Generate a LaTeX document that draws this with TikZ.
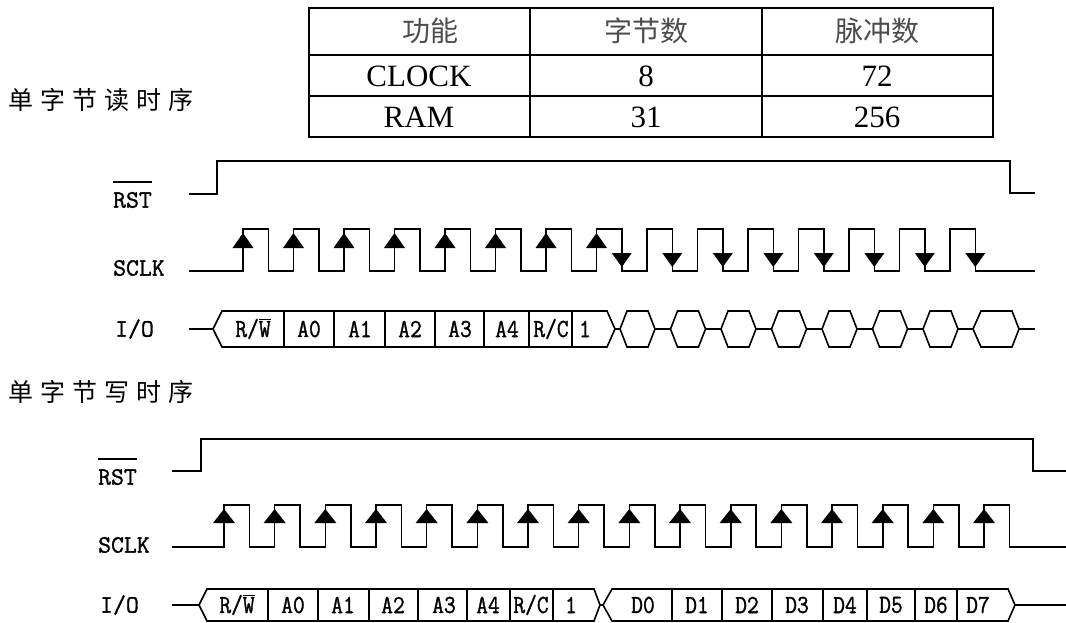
\documentclass[tikz,border=0pt]{standalone}
\usepackage{fontspec}
\setmainfont{Liberation Serif}
\newfontfamily\cjk{Noto Sans CJK SC}
\newfontfamily\cjkt{Noto Sans CJK SC}[LetterSpace=28]
\newfontfamily\iofont{Latin Modern Mono}[FakeBold=1.2]
\newfontfamily\bitfont{Latin Modern Mono}[FakeBold=1.2,FakeStretch=0.88]
\begin{document}
\begin{tikzpicture}[x=1pt,y=-1pt,line join=miter,
  sig/.style={line width=1.6pt},
  tbl/.style={line width=1.7pt},
  lbl/.style={anchor=west,inner sep=0pt,font=\iofont\fontsize{25}{25}\selectfont},
  bit/.style={inner sep=0pt,font=\bitfont\fontsize{26}{26}\selectfont},
  cell/.style={inner sep=0pt,font=\fontsize{31}{31}\selectfont},
  hdr/.style={inner sep=0pt,text=black!70,font=\cjk\fontsize{28}{28}\selectfont},
  ttl/.style={anchor=west,inner sep=0pt,font=\cjkt\fontsize{25}{25}\selectfont},
  ovl/.style={line width=1.3pt},
  box/.style={sig,fill=white}]
\useasboundingbox (0,0) rectangle (1066,622);

% ---------------- table ----------------
\draw[tbl] (309,8) rectangle (993,137);
\draw[tbl] (309,55) -- (993,55) (309,96) -- (993,96);
\draw[tbl] (530,8) -- (530,137) (762,8) -- (762,137);
\node[hdr] (h1) at (430,31) {功能};
\node[hdr] (h2) at (646,31) {字节数};
\node[hdr] (h3) at (877,31) {脉冲数};
\node[cell] (c11) at (419,76) {CLOCK};
\node[cell] (c12) at (646,76) {8};
\node[cell] (c13) at (877,76) {72};
\node[cell] (c21) at (419,117) {RAM};
\node[cell] (c22) at (646,117) {31};
\node[cell] (c23) at (877,117) {256};

% ---------------- titles ----------------
\node[ttl] (tread) at (8,100) {单字节读时序};
\node[ttl] (twrite) at (8,392) {单字节写时序};

% ---------------- read timing ----------------
\node[lbl] (rrst) at (113,200) {RST};
\draw[ovl] ([yshift=18pt]rrst.west) -- ([yshift=18pt]rrst.east);
\node[lbl] (rsclk) at (113,268) {SCLK};
\node[lbl] (rio) at (115,329) {I/O};

\draw[sig] (189,194) -- (217,194) -- (217,161) -- (1010,161) -- (1010,193) -- (1035,193);

\draw[sig] (189,271)
  \foreach \k [evaluate=\k as \r using 243+50.5*\k, evaluate=\k as \f using 268.3+50.5*\k] in {0,...,14}
    { -- (\r,271) -- (\r,229) -- (\f,229) -- (\f,271) }
  -- (1035,271);
\foreach \k [evaluate=\k as \r using 243+50.5*\k] in {0,...,7}
  \fill (\r,233) -- ++(-10.5,15) -- ++(21,0) -- cycle;
\foreach \k [evaluate=\k as \f using 268.3+50.5*\k] in {7,...,14}
  \fill (\f,267) -- ++(-10,-14) -- ++(20,0) -- cycle;

\draw[sig] (189,329) -- (1035,329);
\filldraw[box] (213,329) -- (222,311) -- (607,311) -- (615,329) -- (607,347) -- (222,347) -- cycle;
\foreach \x in {284,334,385,435,484,529,572}
  \draw[sig] (\x,311) -- (\x,347);
\foreach \k [evaluate=\k as \L using 620+50.5*(\k-7)] in {7,...,13}
  \filldraw[box] (\L,329) -- ++(7,-18) -- ++(21,0) -- ++(7,18) -- ++(-7,18) -- ++(-21,0) -- cycle;
\filldraw[box] (973,329) -- (981,311) -- (1012,311) -- (1019,329) -- (1012,347) -- (981,347) -- cycle;

\node[bit] (rb0) at (253,329) {R/$\overline{\mbox{W}}$};
\node[bit] (rb1) at (309,329) {A0};
\node[bit] (rb2) at (360,329) {A1};
\node[bit] (rb3) at (410,329) {A2};
\node[bit] (rb4) at (460,329) {A3};
\node[bit] (rb5) at (507,329) {A4};
\node[bit] (rb6) at (551,329) {R/C};
\node[bit] (rb7) at (585,329) {1};

% ---------------- write timing ----------------
\node[lbl] (wrst) at (98,477) {RST};
\draw[ovl] ([yshift=18pt]wrst.west) -- ([yshift=18pt]wrst.east);
\node[lbl] (wsclk) at (98,545) {SCLK};
\node[lbl] (wio) at (100,605) {I/O};

\draw[sig] (172,471) -- (201,471) -- (201,439) -- (1033,439) -- (1033,471) -- (1066,471);

\draw[sig] (172,547)
  \foreach \k [evaluate=\k as \r using 224+50.67*\k, evaluate=\k as \f using 249.5+50.67*\k] in {0,...,15}
    { -- (\r,547) -- (\r,505) -- (\f,505) -- (\f,547) }
  -- (1066,547);
\foreach \k [evaluate=\k as \r using 224+50.67*\k] in {0,...,15}
  \fill (\r,509) -- ++(-11,14) -- ++(22,0) -- cycle;

\draw[sig] (172,605) -- (1066,605);
\filldraw[box] (199,605) -- (207,589) -- (594,589) -- (600,605) -- (594,621) -- (207,621) -- cycle;
\foreach \x in {268,318,369,418,467,510,553}
  \draw[sig] (\x,589) -- (\x,621);
\filldraw[box] (603,605) -- (612,589) -- (1008,589) -- (1015,605) -- (1008,621) -- (612,621) -- cycle;
\foreach \x in {672,722,772,823,867,915,957}
  \draw[sig] (\x,589) -- (\x,621);

\node[bit] (wb0) at (237,605) {R/$\overline{\mbox{W}}$};
\node[bit] (wb1) at (293,605) {A0};
\node[bit] (wb2) at (343,605) {A1};
\node[bit] (wb3) at (393,605) {A2};
\node[bit] (wb4) at (444,605) {A3};
\node[bit] (wb5) at (488,605) {A4};
\node[bit] (wb6) at (531,605) {R/C};
\node[bit] (wb7) at (571,605) {1};
\node[bit] (wd0) at (643,605) {D0};
\node[bit] (wd1) at (697,605) {D1};
\node[bit] (wd2) at (747,605) {D2};
\node[bit] (wd3) at (797,605) {D3};
\node[bit] (wd4) at (845,605) {D4};
\node[bit] (wd5) at (891,605) {D5};
\node[bit] (wd6) at (936,605) {D6};
\node[bit] (wd7) at (978,605) {D7};
\end{tikzpicture}
\end{document}
